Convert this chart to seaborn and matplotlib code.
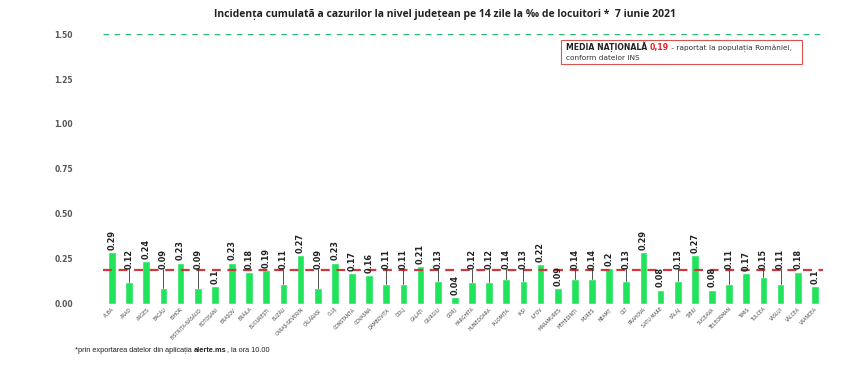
import numpy as np
import pandas as pd
import seaborn as sns
import matplotlib.pyplot as plt
from matplotlib.patches import Rectangle

# ---------------------------
# Data
# ---------------------------

counties = [
    "ALBA", "ARAD", "ARGEȘ", "BACĂU", "BIHOR", "BISTRIȚA-NĂSĂUD", "BOTOȘANI",
    "BRAȘOV", "BRĂILA", "BUCUREȘTI", "BUZĂU", "CARAȘ-SEVERIN", "CĂLĂRAȘI",
    "CLUJ", "CONSTANȚA", "COVASNA", "DÂMBOVIȚA", "DOLJ", "GALAȚI", "GIURGIU",
    "GORJ", "HARGHITA", "HUNEDOARA", "IALOMIȚA", "IAȘI", "ILFOV", "MARAMUREȘ",
    "MEHEDINȚI", "MUREȘ", "NEAMȚ", "OLT", "PRAHOVA", "SATU MARE", "SĂLAJ",
    "SIBIU", "SUCEAVA", "TELEORMAN", "TIMIȘ", "TULCEA", "VASLUI", "VÂLCEA",
    "VRANCEA",
]
values = [
    0.29, 0.12, 0.24, 0.09, 0.23, 0.09, 0.1, 0.23, 0.18, 0.19, 0.11, 0.27,
    0.09, 0.23, 0.17, 0.16, 0.11, 0.11, 0.21, 0.13, 0.04, 0.12, 0.12, 0.14,
    0.13, 0.22, 0.09, 0.14, 0.14, 0.2, 0.13, 0.29, 0.08, 0.13, 0.27, 0.08,
    0.11, 0.17, 0.15, 0.11, 0.18, 0.1,
]
# labels left sitting on top of the bar (not lifted above the average line)
direct_labels = ["BOTOȘANI", "GORJ", "MARAMUREȘ", "SATU MARE", "SUCEAVA", "VRANCEA"]

national_avg = 0.19
alert_level = 1.50
yticks = [0.0, 0.25, 0.5, 0.75, 1.0, 1.25, 1.5]

df = pd.DataFrame({"judet": counties, "val": values})

# ---------------------------
# Figure
# ---------------------------

sns.set_theme(style="white")
plt.rcParams["font.family"] = ["DejaVu Sans"]

fig = plt.figure(figsize=(8.55, 3.78), dpi=100)
ax = fig.add_axes([0.121, 0.196, 0.842, 0.714])

sns.barplot(data=df, x="judet", y="val", color="#22e35c", width=0.45,
            saturation=1, ax=ax)

ax.axhline(0, color="#d9d9d9", linewidth=0.8, zorder=1)
ax.axhline(national_avg, color="#cc3a3f", linestyle=(0, (4, 3)), linewidth=1.6, zorder=3)
ax.axhline(alert_level, color="#2bb673", linestyle=(0, (4, 4)), linewidth=1.0, zorder=3)

# value labels
for i, (name, v) in enumerate(zip(counties, values)):
    if v < 0.16 and name not in direct_labels:
        base = national_avg + 0.005
        ax.plot([i, i], [v, base], color="#333333", linewidth=0.6, zorder=4)
    else:
        base = v + 0.012
    ax.text(i, base, f"{v:g}", rotation=90, ha="center", va="bottom",
            fontsize=5.9, color="#222222", fontweight="bold", zorder=5)

ax.set_xlim(-0.5, len(counties) - 0.5)
ax.set_ylim(0, 1.5)
ax.set_yticks(yticks)
ax.set_yticklabels([f"{t:.2f}" for t in yticks], fontsize=5.5,
                   color="#555555", fontweight="bold")
ax.set_xticks(range(len(counties)))
ax.set_xticklabels(counties, rotation=45, ha="right", rotation_mode="anchor",
                   fontsize=3.3, color="#444444")
ax.tick_params(axis="y", pad=22, length=0)
ax.tick_params(axis="x", pad=2, length=0)
ax.set_xlabel("")
ax.set_ylabel("")
for s in ax.spines.values():
    s.set_visible(False)

# ---------------------------
# Texts
# ---------------------------

fig.text(0.52, 0.962,
         "Incidența cumulată a cazurilor la nivel județean pe 14 zile la ‰ de locuitori *  7 iunie 2021",
         ha="center", va="center", fontsize=7.5, fontweight="bold",
         color="#222222", family=["Open Sans", "DejaVu Sans"])

t = fig.text(0.088, 0.074, "*prin exportarea datelor din aplicația ", fontsize=5.3,
             color="#222222", va="center", family=["Liberation Sans"])
t2 = ax.annotate("alerte.ms", xy=(1, 0), xycoords=t, va="bottom", ha="left",
                 fontsize=5.3, fontweight="bold", color="#222222",
                 family=["Liberation Sans"], annotation_clip=False)
ax.annotate(", la ora 10.00", xy=(1, 0), xycoords=t2, va="bottom", ha="left",
            fontsize=5.3, color="#222222", family=["Liberation Sans"],
            annotation_clip=False)

# national average box
fig.patches.append(Rectangle((561 / 855, 1 - 64 / 378), 241 / 855, 24 / 378,
                             transform=fig.transFigure, fill=False,
                             edgecolor="#d9534f", linewidth=0.8))
a1 = fig.text(566 / 855, 1 - 47 / 378, "MEDIA NAȚIONALĂ ", fontsize=5.6,
              fontweight="bold", color="#222222", va="center")
a2 = ax.annotate("0,19", xy=(1, 0), xycoords=a1, va="bottom", ha="left",
                 fontsize=5.6, fontweight="bold", color="#e0242b",
                 annotation_clip=False)
ax.annotate(" - raportat la populația României,", xy=(1, 0), xycoords=a2,
            va="bottom", ha="left", fontsize=5.3, color="#333333",
            annotation_clip=False)
fig.text(566 / 855, 1 - 57.5 / 378, "conform datelor INS", fontsize=5.3,
         color="#333333", va="center")

fig.savefig("out.png", dpi=100)
